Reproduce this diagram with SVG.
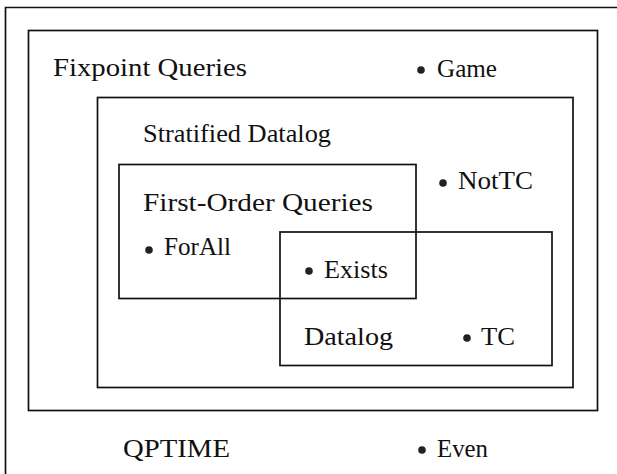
<svg xmlns="http://www.w3.org/2000/svg" width="617" height="474" viewBox="0 0 617 474">
<style>
.box{fill:none;stroke:#111;stroke-width:1.7}
.t{font-family:"Liberation Serif","Times New Roman",serif;font-size:25px;fill:#111}
.dot{fill:#222}
</style>
<rect x="0" y="0" width="617" height="474" fill="#fff"/>
<g id="outer">
<path class="box" d="M5.5,474 V7.5 H617"/>
</g>
<g id="qptime">
<text class="t" x="123" y="457" textLength="107" lengthAdjust="spacingAndGlyphs">QPTIME</text>
</g>
<g id="fixpoint">
<rect class="box" x="28.5" y="30.5" width="569" height="380"/>
<text class="t" x="53" y="76" textLength="194" lengthAdjust="spacingAndGlyphs">Fixpoint Queries</text>
</g>
<g id="stratified">
<rect class="box" x="97.5" y="97.5" width="475.5" height="290"/>
<text class="t" x="143" y="142" textLength="188" lengthAdjust="spacingAndGlyphs">Stratified Datalog</text>
</g>
<g id="firstorder">
<rect class="box" x="119" y="164.5" width="297" height="134"/>
<text class="t" x="143" y="211" textLength="230" lengthAdjust="spacingAndGlyphs">First-Order Queries</text>
</g>
<g id="datalog">
<rect class="box" x="280" y="232" width="272" height="133.5"/>
<text class="t" x="304" y="345" textLength="89" lengthAdjust="spacingAndGlyphs">Datalog</text>
</g>
<g id="game">
<circle class="dot" cx="421" cy="70" r="3.8"/>
<text class="t" x="437" y="77" textLength="60" lengthAdjust="spacingAndGlyphs">Game</text>
</g>
<g id="nottc">
<circle class="dot" cx="443" cy="183" r="3.8"/>
<text class="t" x="458" y="189" textLength="75" lengthAdjust="spacingAndGlyphs">NotTC</text>
</g>
<g id="forall">
<circle class="dot" cx="149" cy="250" r="3.8"/>
<text class="t" x="164" y="255" textLength="67" lengthAdjust="spacingAndGlyphs">ForAll</text>
</g>
<g id="exists">
<circle class="dot" cx="309" cy="271" r="3.8"/>
<text class="t" x="324" y="278" textLength="64" lengthAdjust="spacingAndGlyphs">Exists</text>
</g>
<g id="tc">
<circle class="dot" cx="467" cy="338" r="3.8"/>
<text class="t" x="481" y="345" textLength="34" lengthAdjust="spacingAndGlyphs">TC</text>
</g>
<g id="even">
<circle class="dot" cx="422" cy="450" r="3.8"/>
<text class="t" x="437" y="457" textLength="51" lengthAdjust="spacingAndGlyphs">Even</text>
</g>
</svg>
